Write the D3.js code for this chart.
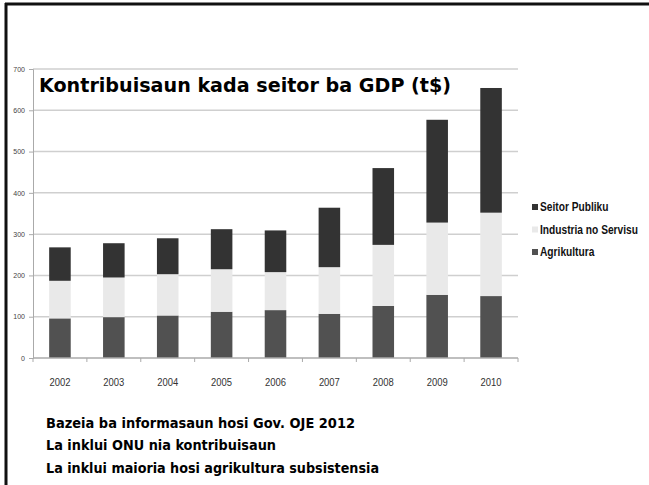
<!DOCTYPE html>
<html>
<head>
<meta charset="utf-8">
<script src="https://cdn.jsdelivr.net/npm/d3@7"></script>
<style>
  body { margin: 0; background: #fff; }
  svg { display: block; }
</style>
</head>
<body>
<div id="chart-area"></div>
<script>
// data (t$)
var years = ["2002", "2003", "2004", "2005", "2006", "2007", "2008", "2009", "2010"];
var agrikultura = [96, 99, 103, 112, 116, 107, 126, 153, 150];
var industria = [91, 96, 100, 103, 92, 113, 148, 175, 202];
var seitorPubliku = [81, 83, 87, 97, 101, 144, 186, 249, 302];
var seriesKeys = ["Agrikultura", "Industria no Servisu", "Seitor Publiku"];
var legendKeys = ["Seitor Publiku", "Industria no Servisu", "Agrikultura"];
var yTicks = [0, 100, 200, 300, 400, 500, 600, 700];
var notes = ["Bazeia ba informasaun hosi Gov. OJE 2012",
             "La inklui ONU nia kontribuisaun",
             "La inklui maioria hosi agrikultura subsistensia"];

var W = 649, H = 485;
var margin = { left: 33, right: 131, top: 69, bottom: 127 };
var width = W - margin.left - margin.right,
    height = H - margin.top - margin.bottom;

var colors = { "Agrikultura": "#515151", "Industria no Servisu": "#e9e9e9", "Seitor Publiku": "#333333" };

var table = years.map(function(y, i){
  return { year: y, "Agrikultura": agrikultura[i], "Industria no Servisu": industria[i], "Seitor Publiku": seitorPubliku[i] };
});

var svg = d3.select("#chart-area").append("svg")
    .attr("width", W)
    .attr("height", H);

// slide frame
svg.append("line").attr("x1", 6).attr("x2", 6).attr("y1", 3).attr("y2", H)
    .attr("stroke", "#111").attr("stroke-width", 3);
svg.append("line").attr("x1", 5).attr("x2", W).attr("y1", 4).attr("y2", 4)
    .attr("stroke", "#111").attr("stroke-width", 3);

var g = svg.append("g")
    .attr("transform", "translate(" + margin.left + "," + margin.top + ")");

var x = d3.scaleBand().domain(years).range([0, width]).paddingInner(0.6).paddingOuter(0.3);
var y = d3.scaleLinear().domain([0, 700]).range([height, 0]);

// gridlines
g.append("g").selectAll("line")
  .data(yTicks.slice(1))
  .enter().append("line")
    .attr("x1", 0).attr("x2", width)
    .attr("y1", function(d){ return y(d); })
    .attr("y2", function(d){ return y(d); })
    .attr("stroke", "#cfcfcf").attr("stroke-width", 1.5);

// y axis
var yAxis = g.append("g").call(d3.axisLeft(y).tickValues(yTicks).tickSize(4).tickPadding(4));
yAxis.select(".domain").attr("stroke", "#aaa");
yAxis.selectAll(".tick line").attr("stroke", "#aaa");
yAxis.selectAll("text").attr("fill", "#444").attr("font-size", "7px")
    .attr("font-family", "Liberation Sans Narrow, Liberation Sans, sans-serif");

// bars
var stack = d3.stack().keys(seriesKeys)(table);
g.append("g").selectAll("g")
  .data(stack)
  .enter().append("g")
    .attr("fill", function(d){ return colors[d.key]; })
  .selectAll("rect")
  .data(function(d){ return d; })
  .enter().append("rect")
    .attr("x", function(d){ return x(d.data.year); })
    .attr("y", function(d){ return y(d[1]); })
    .attr("height", function(d){ return y(d[0]) - y(d[1]); })
    .attr("width", x.bandwidth());

// x axis with ticks between the categories
var xAxis = g.append("g").attr("transform", "translate(0," + height + ")");
xAxis.append("line").attr("x1", 0).attr("x2", width).attr("stroke", "#aaa").attr("stroke-width", 1.5);
xAxis.selectAll(".sep")
  .data(d3.range(years.length + 1))
  .enter().append("line")
    .attr("x1", function(i){ return i * width / years.length; })
    .attr("x2", function(i){ return i * width / years.length; })
    .attr("y1", 0).attr("y2", 4)
    .attr("stroke", "#aaa");
xAxis.selectAll("text")
  .data(years)
  .enter().append("text")
    .attr("x", function(d){ return x(d) + x.bandwidth() / 2; })
    .attr("y", 28)
    .attr("text-anchor", "middle")
    .attr("fill", "#333")
    .attr("font-size", "10px")
    .attr("font-family", "Liberation Sans Narrow, Liberation Sans, sans-serif")
    .attr("textLength", 21).attr("lengthAdjust", "spacingAndGlyphs")
    .text(function(d){ return d; });

// title
svg.append("text")
    .attr("x", 39).attr("y", 92)
    .attr("font-family", "DejaVu Sans, Verdana, sans-serif")
    .attr("font-weight", "bold")
    .attr("font-size", "20px")
    .attr("fill", "#000")
    .attr("textLength", 412).attr("lengthAdjust", "spacingAndGlyphs")
    .text("Kontribuisaun kada seitor ba GDP (t$)");

// legend (condensed by a horizontal scale so it fits the slide edge)
var legend = svg.append("g").selectAll("g")
  .data(legendKeys)
  .enter().append("g")
    .attr("transform", function(d, i){ return "translate(532," + (207 + i * 22.5) + ")"; });
legend.append("rect")
    .attr("x", 0).attr("y", -3).attr("width", 6).attr("height", 6)
    .attr("fill", function(d){ return colors[d]; });
legend.append("text")
    .attr("transform", "translate(8,0) scale(0.85,1)")
    .attr("dy", "0.35em")
    .attr("font-family", "Liberation Sans, Arial, sans-serif")
    .attr("font-weight", "bold")
    .attr("font-size", "12px")
    .attr("fill", "#111")
    .text(function(d){ return d; });

// notes
svg.append("g").selectAll("text")
  .data(notes)
  .enter().append("text")
    .attr("x", 46)
    .attr("y", function(d, i){ return 428 + i * 22.3; })
    .attr("font-family", "DejaVu Sans, Verdana, sans-serif")
    .attr("font-weight", "bold")
    .attr("font-size", "14px")
    .attr("fill", "#000")
    .attr("textLength", function(d, i){ return [309, 230, 333][i]; })
    .attr("lengthAdjust", "spacingAndGlyphs")
    .text(function(d){ return d; });
</script>
</body>
</html>
